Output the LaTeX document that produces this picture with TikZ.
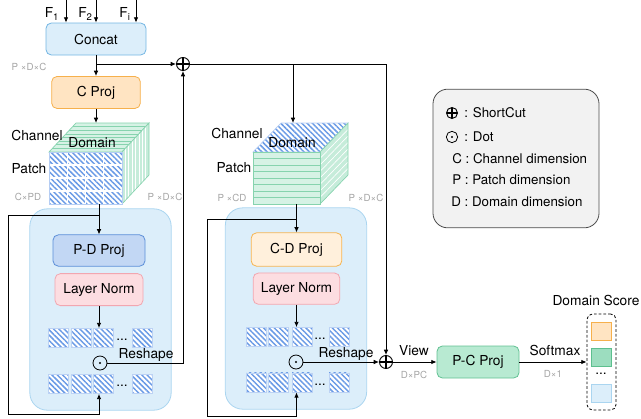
\documentclass[tikz,border=0pt]{standalone}
\usepackage{fontspec}
\setmainfont{TeX Gyre Heros}
\usepackage{xcolor}
\usepackage{tikz}
\usetikzlibrary{arrows.meta,positioning,calc,patterns.meta}
\tikzset{
  comp/.style={draw=#1D,fill=#1L,rounded corners=4pt,line width=0.6pt,minimum height=24pt,inner sep=0pt},
  blockbox/.style={draw=cBlkD,fill=cBlkL,rounded corners=13pt,line width=0.6pt,minimum width=106pt,minimum height=151pt},
  hatch/.style={pattern={Lines[angle=-45,distance=2.8pt,line width=1.1pt]},pattern color=cHatch},
  cell/.style={draw=cHatch!45,line width=0.3pt,minimum width=15pt,minimum height=14.5pt,inner sep=0pt,preaction={fill=white},hatch},
  flow/.style={-{Latex[length=4pt,width=3.5pt]},line width=0.7pt},
  dimtext/.style={font=\fontsize{7.3}{8}\selectfont,text=cDim,inner sep=0pt},
  lbl/.style={inner sep=0pt},
  sumnode/.style={circle,draw,line width=0.7pt,minimum size=9.75pt,inner sep=0pt,
    path picture={\draw[line width=1.6pt] (path picture bounding box.north) -- (path picture bounding box.south)
      (path picture bounding box.west) -- (path picture bounding box.east);}},
  dotnode/.style={circle,draw,line width=0.6pt,minimum size=10.5pt,inner sep=0pt,
    path picture={\fill (path picture bounding box.center) circle (0.8pt);}}
}
\definecolor{cSkyL}{HTML}{DCEEFA}
\definecolor{cSkyD}{HTML}{74B6E3}
\definecolor{cOrgL}{HTML}{FFE4C2}
\definecolor{cOrgD}{HTML}{F6B04C}
\definecolor{cBluL}{HTML}{C2D7F4}
\definecolor{cBluD}{HTML}{5B8ED8}
\definecolor{cPnkL}{HTML}{FCDDE1}
\definecolor{cPnkD}{HTML}{F2A6B0}
\definecolor{cCrmL}{HTML}{FFF0DC}
\definecolor{cCrmD}{HTML}{F6B552}
\definecolor{cGrnL}{HTML}{B8EAD2}
\definecolor{cGrnD}{HTML}{62C193}
\definecolor{cMntL}{HTML}{9CDDBF}
\definecolor{cMntD}{HTML}{5DBF8E}
\definecolor{cBlkL}{HTML}{DCEEFA}
\definecolor{cBlkD}{HTML}{AAD5F0}
\definecolor{cHatch}{HTML}{6A9BE6}
\definecolor{cSlab}{HTML}{D6F2E5}
\definecolor{cSlabD}{HTML}{86D3AE}
\definecolor{cDim}{HTML}{A6A6A6}
\definecolor{cLeg}{HTML}{F2F2F2}

\begin{document}
\begin{tikzpicture}[x=0.75pt,y=-0.75pt,font=\fontsize{10.3}{12}\selectfont]
    \useasboundingbox (0,0) rectangle (641,418);

    % Blocks
    \node[blockbox] (blockA) at (100.5,309.5) {};
    \node[blockbox] (blockB) at (296,308.5) {};
    \node[draw=black!70,fill=cLeg,rounded corners=11pt,line width=0.6pt,minimum width=124.5pt,minimum height=104pt] (legend) at (516,158.5) {};

    % Nodes
    \node[comp=cSky,minimum width=75pt] (concat) at (96,39) {Concat};
    \node[comp=cOrg,minimum width=66.5pt,below=15.5pt of concat] (cprojA) {C Proj};
    \node[comp=cBlu,minimum width=69pt,minimum height=23.5pt] (pdprojA) at (99,250.5) {P-D Proj};
    \node[comp=cPnk,minimum width=66pt,below=5pt of pdprojA] (lnormA) {Layer Norm};
    \node[comp=cCrm,minimum width=68pt,minimum height=25pt] (cdprojB) at (296.5,249.5) {C-D Proj};
    \node[comp=cPnk,minimum width=65pt,minimum height=23.5pt,below=4.5pt of cdprojB] (lnormB) {Layer Norm};
    \node[comp=cGrn,minimum width=61.5pt] (pcproj) at (478,362) {P-C Proj};

    \node[sumnode] (plusA) at (183,64) {};
    \node[sumnode] (plusB) at (386,362) {};
    \node[dotnode] (dotA) at (100,363) {};
    \node[dotnode] (dotB) at (296,362) {};

    % Squares
    \foreach \i/\x in {1/58,2/81,3/103.5,4/142} {
      \node[cell] (rowA\i) at (\x,338) {};
      \node[cell] (rowB\i) at (\x,384) {};
    }
    \foreach \i/\x in {1/256,2/278,3/302,4/339} {
      \node[cell] (rowC\i) at (\x,337) {};
      \node[cell] (rowD\i) at (\x,382.5) {};
    }
    \node[lbl] (dotsA) at (122,340) {...};
    \node[lbl] (dotsB) at (122,386) {...};
    \node[lbl] (dotsC) at (320,339) {...};
    \node[lbl] (dotsD) at (320,384.5) {...};

    % Cube 1
    \begin{scope}[shift={(49,152)}]
      \fill[cSlab] (0,0) -- (27,-29) -- (100,-29) -- (73,0) -- cycle;
      \foreach \k in {1,...,7} \draw[cSlabD,line width=0.4pt] (\k*27/8,-\k*29/8) -- ++(73,0);
      \draw[cSlabD,line width=0.5pt] (0,0) -- (27,-29) -- (100,-29) -- (73,0) -- cycle;
      \fill[cSlab!80!cSlabD] (73,0) -- (100,-29) -- (100,23) -- (73,52) -- cycle;
      \foreach \k in {1,...,7} \draw[white,line width=0.5pt] (73+\k*27/8,-\k*29/8) -- ++(0,52);
      \draw[cSlabD,line width=0.5pt] (73,0) -- (100,-29) -- (100,23) -- (73,52) -- cycle;
      \fill[white] (0,0) rectangle (73,52);
      \fill[hatch] (0,0) rectangle (73,52);
      \foreach \k in {1,2,3} \draw[white,line width=0.8pt] (\k*73/4,0) -- ++(0,52) (0,\k*13) -- ++(73,0);
      \draw[cHatch!50,line width=0.5pt] (0,0) rectangle (73,52);
      \coordinate (cubeAtop) at (48,-29);
      \coordinate (cubeAbot) at (49,52);
    \end{scope}

    % Cube 2
    \begin{scope}[shift={(253,152)}]
      \fill[white] (0,0) -- (28,-29) -- (95,-29) -- (67,0) -- cycle;
      \fill[hatch] (0,0) -- (28,-29) -- (95,-29) -- (67,0) -- cycle;
      \draw[cHatch!50,line width=0.5pt] (0,0) -- (28,-29) -- (95,-29) -- (67,0) -- cycle;
      \fill[cSlab!80!cSlabD] (67,0) -- (95,-29) -- (95,23) -- (67,52) -- cycle;
      \foreach \k in {1,...,7} \draw[white,line width=0.5pt] (67,\k*6.5) -- ++(28,-29);
      \draw[cSlabD,line width=0.5pt] (67,0) -- (95,-29) -- (95,23) -- (67,52) -- cycle;
      \fill[cSlab] (0,0) rectangle (67,52);
      \foreach \k in {1,...,7} \draw[cSlabD,line width=0.5pt] (0,\k*6.5) -- ++(67,0);
      \draw[cSlabD,line width=0.5pt] (0,0) rectangle (67,52);
      \coordinate (cubeBtop) at (40,-29);
      \coordinate (cubeBbot) at (43,52);
    \end{scope}

    % Domain score
    \node[draw,dash pattern=on 2pt off 1.5pt,rounded corners=4pt,line width=0.6pt,minimum width=21.75pt,minimum height=72pt] (score) at (601.5,362) {};
    \node[comp=cOrg,rounded corners=0pt,minimum width=15pt,minimum height=14pt] (scoreA) at (601,331.5) {};
    \node[comp=cMnt,rounded corners=0pt,minimum width=15pt,minimum height=14pt] (scoreB) at (601,357.5) {};
    \node[comp=cSky,draw=cBlkD,rounded corners=0pt,minimum width=15pt,minimum height=14pt] (scoreC) at (601,393.5) {};
    \node[lbl] (scoreDots) at (601,374) {...};
    \node (scoreTitle) at (596,300) {Domain Score};

    % Labels
    \node (lblF1) at (52,14) {F\textsubscript{1}};
    \node (lblF2) at (85.5,14) {F\textsubscript{2}};
    \node (lblFi) at (125,14) {F\textsubscript{i}};
    \node[dimtext] (dimTop) at (29,67) {P ×D×C};
    \node (chanA) at (37,135) {Channel};
    \node (domA) at (92,143) {Domain};
    \node (patchA) at (29,169) {Patch};
    \node[dimtext] (dimA1) at (28,197) {C×PD};
    \node[dimtext] (dimA2) at (165,197) {P ×D×C};
    \node (chanB) at (237,133) {Channel};
    \node (domB) at (292,143) {Domain};
    \node (patchB) at (234,168) {Patch};
    \node[dimtext] (dimB1) at (232,198) {P ×CD};
    \node[dimtext] (dimB2) at (366,198) {P ×D×C};
    \node (reshapeA) at (146,355) {Reshape};
    \node (reshapeB) at (346,354) {Reshape};
    \node (view) at (414,351) {View};
    \node[dimtext] (dimView) at (414,375) {D×PC};
    \node (softmax) at (555,350) {Softmax};
    \node[dimtext] (dimSoft) at (553,374) {D×1};

    % Legend
    \node[sumnode,minimum size=8.25pt] (legPlus) at (452,113) {};
    \node[dotnode,minimum size=8.5pt] (legDot) at (452,137) {};
    \begin{scope}[font=\fontsize{10}{12}\selectfont]
      \node[lbl,anchor=west] (legShort) at (464,113) {: ShortCut};
      \node[lbl,anchor=west] (legDotT) at (464,137) {: Dot};
      \node[lbl,anchor=west] (legC) at (452,159) {C : Channel dimension};
      \node[lbl,anchor=west] (legP) at (452,180) {P : Patch dimension};
      \node[lbl,anchor=west] (legD) at (451,202) {D : Domain dimension};
    \end{scope}

    % Paths
    \coordinate (f1) at (66,0);
    \coordinate (f2) at (96,0);
    \coordinate (fi) at (136,0);
    \draw[flow] (f1) -- (f1 |- concat.north);
    \draw[flow] (f2) -- (f2 |- concat.north);
    \draw[flow] (fi) -- (fi |- concat.north);
    \draw[flow] (concat.south) -- (cprojA.north);
    \coordinate (splitTop) at (concat.south |- plusA);
    \draw[flow] (splitTop) -- (plusA.west);
    \draw[flow] (cprojA.south) -- (cprojA.south |- cubeAtop);
    \draw[flow] (pdprojA.north |- cubeAbot) -- (pdprojA.north);
    \coordinate (loopAtop) at (8,215);
    \coordinate (loopAbot) at (8,414);
    \draw[flow] (pdprojA.north |- loopAtop) -- (loopAtop) -- (loopAbot) -| (pdprojA.south |- rowB3.south);
    \draw[flow] (lnormA.south) -- (lnormA.south |- rowA3.north);
    \draw[flow] (dotA.east) -| (plusA.south);
    \draw[flow] (plusA.east) -| (plusB.north);
    \coordinate (splitB) at (cubeBtop |- plusA);
    \draw[flow] (splitB) -- (cubeBtop);
    \draw[flow] (cdprojB.north |- cubeBbot) -- (cdprojB.north);
    \coordinate (loopBtop) at (207,219);
    \coordinate (loopBbot) at (207,416);
    \draw[flow] (cdprojB.north |- loopBtop) -- (loopBtop) -- (loopBbot) -| (cdprojB.south |- rowD3.south);
    \draw[flow] (lnormB.south) -- (lnormB.south |- rowC3.north);
    \draw[flow] (dotB.east) -- (plusB.west);
    \draw[flow] (plusB.east) -- (pcproj.west);
    \draw[flow] (pcproj.east) -- (score.west);
\end{tikzpicture}
\end{document}
